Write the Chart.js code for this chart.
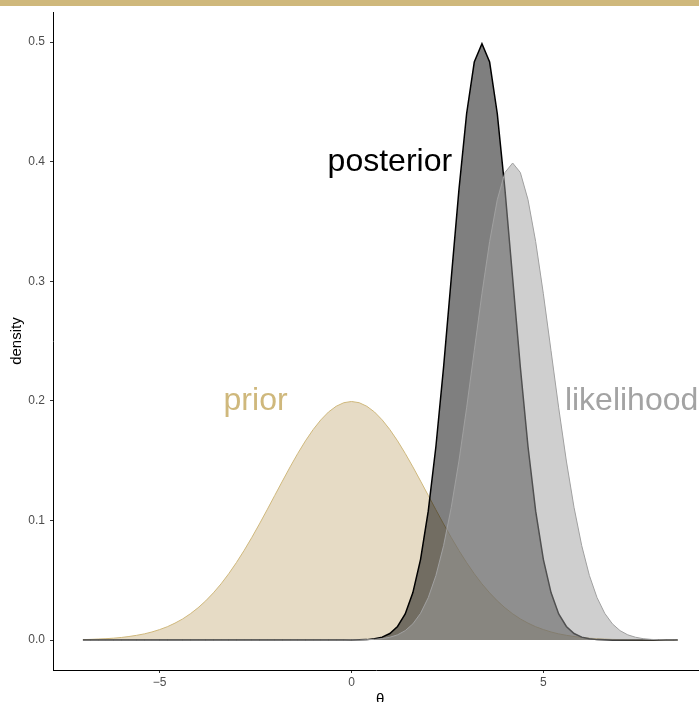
<!DOCTYPE html>
<html>
<head>
<meta charset="utf-8">
<script src="https://cdn.jsdelivr.net/npm/chart.js"></script>
<style>
  html, body { margin: 0; padding: 0; background: #fff; }
  #wrap { position: relative; width: 699px; height: 702px; }
  #barra { position: absolute; left: 0; top: 0; width: 699px; height: 6px; background: #cfb87c; }
</style>
</head>
<body>
<div id="wrap">
  <canvas id="grafico" width="699" height="702"></canvas>
  <div id="barra"></div>
</div>
<script>
// theta grid
const theta = [
  -7.0, -6.8, -6.6, -6.4, -6.2, -6.0, -5.8, -5.6, -5.4, -5.2,
  -5.0, -4.8, -4.6, -4.4, -4.2, -4.0, -3.8, -3.6, -3.4, -3.2,
  -3.0, -2.8, -2.6, -2.4, -2.2, -2.0, -1.8, -1.6, -1.4, -1.2,
  -1.0, -0.8, -0.6, -0.4, -0.2, 0.0, 0.2, 0.4, 0.6, 0.8,
  1.0, 1.2, 1.4, 1.6, 1.8, 2.0, 2.2, 2.4, 2.6, 2.8,
  3.0, 3.2, 3.4, 3.6, 3.8, 4.0, 4.2, 4.4, 4.6, 4.8,
  5.0, 5.2, 5.4, 5.6, 5.8, 6.0, 6.2, 6.4, 6.6, 6.8,
  7.0, 7.2, 7.4, 7.6, 7.8, 8.0, 8.2, 8.4, 8.5
];

const prior = [
  0.0004, 0.0006, 0.0009, 0.0012, 0.0016, 0.0022, 0.0030, 0.0040, 0.0052, 0.0068,
  0.0088, 0.0112, 0.0142, 0.0177, 0.0220, 0.0270, 0.0328, 0.0395, 0.0470, 0.0555,
  0.0648, 0.0749, 0.0857, 0.0971, 0.1089, 0.1210, 0.1330, 0.1448, 0.1561, 0.1666,
  0.1760, 0.1841, 0.1907, 0.1955, 0.1985, 0.1995, 0.1985, 0.1955, 0.1907, 0.1841,
  0.1760, 0.1666, 0.1561, 0.1448, 0.1330, 0.1210, 0.1089, 0.0971, 0.0857, 0.0749,
  0.0648, 0.0555, 0.0470, 0.0395, 0.0328, 0.0270, 0.0220, 0.0177, 0.0142, 0.0112,
  0.0088, 0.0068, 0.0052, 0.0040, 0.0030, 0.0022, 0.0016, 0.0012, 0.0009, 0.0006,
  0.0004, 0.0003, 0.0002, 0.0001, 0.0001, 0.0001, 0.0000, 0.0000, 0.0000
];

const likelihood = [
  0, 0, 0, 0, 0, 0, 0, 0, 0, 0,
  0, 0, 0, 0, 0, 0, 0, 0, 0, 0,
  0, 0, 0, 0, 0, 0, 0, 0, 0, 0,
  0, 0, 0, 0, 0, 0.0001, 0.0001, 0.0003, 0.0006, 0.0012,
  0.0024, 0.0044, 0.0079, 0.0136, 0.0224, 0.0355, 0.0540, 0.0790, 0.1109, 0.1497,
  0.1942, 0.2420, 0.2897, 0.3332, 0.3683, 0.3910, 0.3989, 0.3910, 0.3683, 0.3332,
  0.2897, 0.2420, 0.1942, 0.1497, 0.1109, 0.0790, 0.0540, 0.0355, 0.0224, 0.0136,
  0.0079, 0.0044, 0.0024, 0.0012, 0.0006, 0.0003, 0.0001, 0.0001, 0
];

const posterior = [
  0, 0, 0, 0, 0, 0, 0, 0, 0, 0,
  0, 0, 0, 0, 0, 0, 0, 0, 0, 0,
  0, 0, 0, 0, 0, 0, 0, 0, 0, 0,
  0, 0, 0, 0, 0, 0.0001, 0.0002, 0.0004, 0.0011, 0.0025,
  0.0055, 0.0114, 0.0219, 0.0397, 0.0675, 0.1078, 0.1619, 0.2283, 0.3025, 0.3764,
  0.4401, 0.4833, 0.4987, 0.4833, 0.4401, 0.3764, 0.3025, 0.2283, 0.1619, 0.1078,
  0.0675, 0.0397, 0.0219, 0.0114, 0.0055, 0.0025, 0.0011, 0.0004, 0.0002, 0.0001,
  0, 0, 0, 0, 0, 0, 0, 0, 0
];

const yTicks = [0, 0.1, 0.2, 0.3, 0.4, 0.5];
const yTickLabels = ['0.0', '0.1', '0.2', '0.3', '0.4', '0.5'];
const xTicks = [-5, 0, 5];
const xTickLabels = ['\u22125', '0', '5'];

const labelText = ['prior', 'posterior', 'likelihood'];
const labelX = [-2.5, 1.0, 7.3];
const labelY = [0.2, 0.4, 0.2];

// estilos
const FUENTE = '"Liberation Sans", Arial, Helvetica, sans-serif';
const colores = {
  prior: { linea: '#cfb87c', relleno: 'rgba(206,183,139,0.5)', texto: '#cfb87c' },
  posterior: { linea: '#000000', relleno: 'rgba(0,0,0,0.5)', texto: '#000000' },
  likelihood: { linea: '#a0a0a0', relleno: 'rgba(160,160,160,0.5)', texto: '#a3a3a3' }
};

const puntos = (ys) => ys.map((y, i) => ({ x: theta[i], y }));

const serie = (nombre, ys, grosor) => ({
  label: nombre,
  data: puntos(ys),
  borderColor: colores[nombre].linea,
  backgroundColor: colores[nombre].relleno,
  borderWidth: grosor,
  fill: 'origin',
  pointRadius: 0,
  tension: 0
});

const textos = {
  id: 'textos',
  afterDatasetsDraw(chart) {
    const { ctx, chartArea, scales: { x, y } } = chart;
    ctx.save();
    ctx.font = `32px ${FUENTE}`;
    ctx.textAlign = 'center';
    ctx.textBaseline = 'alphabetic';
    labelText.forEach((t, i) => {
      ctx.fillStyle = colores[t].texto;
      ctx.fillText(t, x.getPixelForValue(labelX[i]), y.getPixelForValue(labelY[i]) + 9.5);
    });

    // titulos de ejes
    ctx.fillStyle = '#000';
    ctx.font = `15px ${FUENTE}`;
    ctx.save();
    ctx.translate(17, (chartArea.top + chartArea.bottom) / 2);
    ctx.rotate(-Math.PI / 2);
    ctx.textBaseline = 'middle';
    ctx.fillText('density', 0, 0);
    ctx.restore();

    ctx.textBaseline = 'top';
    ctx.fillText('\u03b8', x.getPixelForValue((theta[0] + theta[theta.length - 1]) / 2), 692);
    ctx.restore();
  }
};

const ctx = document.getElementById('grafico').getContext('2d');
const grafico = new Chart(ctx, {
  type: 'line',
  data: {
    datasets: [
      serie('likelihood', likelihood, 1),
      serie('posterior', posterior, 1.5),
      serie('prior', prior, 1)
    ]
  },
  options: {
    animation: false,
    responsive: false,
    devicePixelRatio: 1,
    layout: { padding: { top: 10, right: 0, bottom: 0, left: 0 } },
    plugins: {
      legend: { display: false },
      tooltip: { enabled: false }
    },
    scales: {
      x: {
        type: 'linear',
        min: -7.78,
        max: 9.057,
        afterBuildTicks: (s) => { s.ticks = xTicks.map((v) => ({ value: v })); },
        afterFit: (s) => { s.height = 32; },
        ticks: {
          callback: (v, i) => xTickLabels[i],
          font: { family: FUENTE, size: 12 },
          color: '#4d4d4d',
          padding: 2,
          maxRotation: 0,
          autoSkip: false
        },
        grid: { drawOnChartArea: false, drawTicks: true, tickLength: 3, color: '#333' },
        border: { color: '#000', width: 1 }
      },
      y: {
        min: -0.025,
        max: 0.525,
        afterBuildTicks: (s) => { s.ticks = yTicks.map((v) => ({ value: v })); },
        afterFit: (s) => { s.width = 53; },
        ticks: {
          callback: (v, i) => yTickLabels[i],
          font: { family: FUENTE, size: 12 },
          color: '#4d4d4d',
          padding: 5
        },
        grid: { drawOnChartArea: false, drawTicks: true, tickLength: 3, color: '#333' },
        border: { color: '#000', width: 1 }
      }
    }
  },
  plugins: [textos]
});
</script>
</body>
</html>
